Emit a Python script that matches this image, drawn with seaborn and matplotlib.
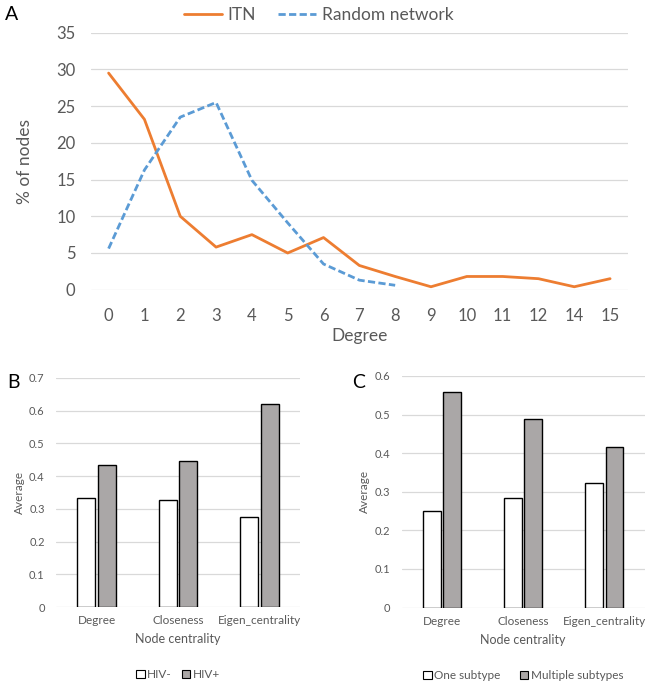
import numpy as np
import pandas as pd
import matplotlib.pyplot as plt
import seaborn as sns
from matplotlib.patches import Patch
from matplotlib.lines import Line2D

# -------------------------
# Data
# -------------------------
degree_labels = ["0", "1", "2", "3", "4", "5", "6", "7", "8", "9", "10", "11", "12", "14", "15"]
itn_pct = [29.5, 23.2, 10.0, 5.8, 7.5, 5.0, 7.1, 3.3, 1.8, 0.4, 1.8, 1.8, 1.5, 0.4, 1.5]
random_labels = ["0", "1", "2", "3", "4", "5", "6", "7", "8"]
random_pct = [5.6, 16.3, 23.5, 25.5, 14.9, 9.1, 3.5, 1.3, 0.6]

centrality = ["Degree", "Closeness", "Eigen_centrality"]
hiv_neg = [0.332, 0.326, 0.275]
hiv_pos = [0.434, 0.447, 0.619]
one_subtype = [0.249, 0.285, 0.323]
multi_subtype = [0.559, 0.489, 0.416]

# -------------------------
# Style
# -------------------------
sns.set_theme(style="white")
plt.rcParams['font.family'] = ['Lato', 'DejaVu Sans']
TXT = "#595959"
GRID = "#d9d9d9"
ORANGE = "#ed7d31"
BLUE = "#5b9bd5"
GREY = "#aba7a6"

fig = plt.figure(figsize=(6.5, 6.84), dpi=100)


def clean_axes(ax, tick_size, ypad, xpad):
    for s in ax.spines.values():
        s.set_visible(False)
    ax.yaxis.grid(True, color=GRID, lw=0.9)
    ax.xaxis.grid(False)
    ax.set_axisbelow(True)
    ax.tick_params(axis='both', length=0, colors=TXT, labelsize=tick_size)
    ax.tick_params(axis='y', pad=ypad)
    ax.tick_params(axis='x', pad=xpad)


# -------------------------
# Panel A: degree distribution
# -------------------------
axA = fig.add_axes([90.7 / 650, 1 - 289.7 / 684, 537.3 / 650, 257 / 684])
dfA = pd.concat([
    pd.DataFrame({"Degree": degree_labels, "pct": itn_pct, "net": "ITN"}),
    pd.DataFrame({"Degree": random_labels, "pct": random_pct, "net": "Random network"}),
])
sns.lineplot(data=dfA, x="Degree", y="pct", hue="net", style="net",
             palette={"ITN": ORANGE, "Random network": BLUE},
             dashes={"ITN": "", "Random network": (2.6, 1.2)},
             lw=2.0, sort=False, legend=False, ax=axA)
axA.set_xlim(-0.5, len(degree_labels) - 0.5)
axA.set_ylim(0, 35)
axA.set_yticks(np.arange(0, 36, 5))
clean_axes(axA, 12, 11, 13)
axA.set_xlabel("Degree", color=TXT, fontsize=12.5, labelpad=3)
axA.set_ylabel("% of nodes", color=TXT, fontsize=12.5)
axA.yaxis.set_label_coords(-0.108, 0.5)

handlesA = [Line2D([], [], color=ORANGE, lw=2.0),
            Line2D([], [], color=BLUE, lw=2.0, dashes=(2.6, 1.2))]
legA = fig.legend(handlesA, ["ITN", "Random network"], loc="center",
                  bbox_to_anchor=(0.49, 1 - 15 / 684), ncol=2, frameon=False,
                  fontsize=12.5, handlelength=2.2, handletextpad=0.3, columnspacing=1.3)
for t in legA.get_texts():
    t.set_color(TXT)


# -------------------------
# Panels B and C: node centrality bars
# -------------------------
def bar_panel(rect, neg, pos, labels, ymax, letter_xy, letter, colspace):
    ax = fig.add_axes(rect)
    df = pd.DataFrame({
        "measure": centrality * 2,
        "value": neg + pos,
        "group": [labels[0]] * 3 + [labels[1]] * 3,
    })
    sns.barplot(data=df, x="measure", y="value", hue="group",
                palette=["white", GREY], edgecolor="black", linewidth=1.0,
                width=0.5, gap=0.12, legend=False, ax=ax)
    ax.set_ylim(0, ymax)
    ax.set_yticks(np.round(np.arange(0, ymax + 0.001, 0.1), 1))
    ax.set_yticklabels(["0"] + [f"{v:.1f}" for v in np.arange(0.1, ymax + 0.001, 0.1)])
    ax.set_xlim(-0.5, 2.5)
    clean_axes(ax, 8.5, 8, 6)
    ax.tick_params(axis='y', labelsize=8)
    ax.set_xlabel("Node centrality", color=TXT, fontsize=9, labelpad=5)
    ax.set_ylabel("Average", color=TXT, fontsize=8.5)
    ax.yaxis.set_label_coords(-0.128, 0.5)
    handles = [Patch(facecolor="white", edgecolor="black", lw=0.8),
               Patch(facecolor=GREY, edgecolor="black", lw=0.8)]
    leg = ax.legend(handles, labels, loc="center", bbox_to_anchor=(0.5, -0.295),
                    ncol=2, frameon=False, fontsize=8.5, handlelength=0.75,
                    handleheight=0.75, handletextpad=0.2, columnspacing=colspace)
    for t in leg.get_texts():
        t.set_color(TXT)
    fig.text(letter_xy[0] / 650, 1 - letter_xy[1] / 684, letter,
             fontsize=14, color="black", ha="left", va="center")
    return ax


bar_panel([55.8 / 650, 1 - 607 / 684, 244.5 / 650, 229 / 684],
          hiv_neg, hiv_pos, ["HIV-", "HIV+"], 0.7, (7, 383), "B", 0.8)
bar_panel([401.5 / 650, 1 - 607.5 / 684, 243.5 / 650, 231.5 / 684],
          one_subtype, multi_subtype, ["One subtype", "Multiple subtypes"], 0.6, (352, 383), "C", 1.6)

fig.text(5 / 650, 1 - 14 / 684, "A", fontsize=14, color="black", ha="left", va="center")

fig.savefig("out.png", dpi=100)
